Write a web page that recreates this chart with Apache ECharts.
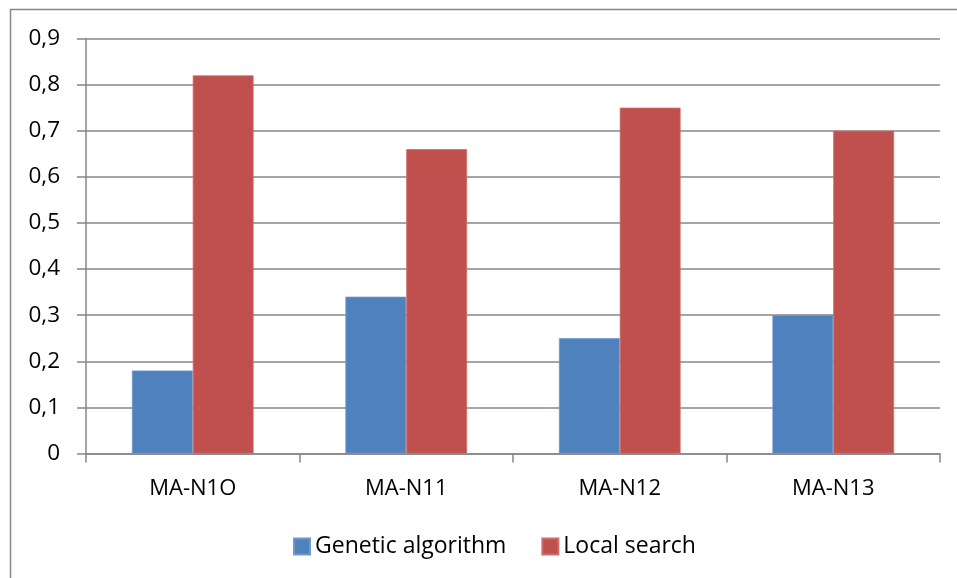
<!DOCTYPE html>
<html>
<head>
<meta charset="utf-8">
<script src="https://cdn.jsdelivr.net/npm/echarts@6/dist/echarts.min.js"></script>
<style>
  html, body { margin: 0; padding: 0; background: #fff; }
  #chart { width: 957px; height: 578px; }
</style>
</head>
<body>
<div id="chart"></div>
<script>
const categories = ['MA-N1O', 'MA-N11', 'MA-N12', 'MA-N13'];
const geneticAlgorithm = [0.18, 0.34, 0.25, 0.30];
const localSearch = [0.82, 0.66, 0.75, 0.70];
const yTickLabels = ['0', '0,1', '0,2', '0,3', '0,4', '0,5', '0,6', '0,7', '0,8', '0,9'];

const FONT = '"Open Sans"';
const GRAY = '#878787';

const chart = echarts.init(document.getElementById('chart'), null, { renderer: 'canvas' });

chart.setOption({
  animation: false,
  backgroundColor: '#fff',
  textStyle: { fontFamily: FONT },
  graphic: [{
    type: 'rect',
    shape: { x: 10.5, y: 9.5, width: 1000, height: 700 },
    style: { fill: 'none', stroke: GRAY, lineWidth: 1.5 },
    silent: true
  }],
  grid: { left: 86, right: 17, top: 38.5, bottom: 124.5, containLabel: false },
  legend: {
    bottom: 15,
    left: 288,
    itemWidth: 16,
    itemHeight: 16,
    itemGap: 35,
    icon: 'rect',
    textStyle: { fontFamily: FONT, fontSize: 23, color: '#000' },
    data: ['Genetic algorithm', 'Local search']
  },
  xAxis: {
    type: 'category',
    data: categories,
    axisLine: { lineStyle: { color: GRAY, width: 1.5 } },
    axisTick: { show: true, length: 9, alignWithLabel: false, lineStyle: { color: GRAY, width: 1.5 } },
    axisLabel: { fontFamily: FONT, fontSize: 22, color: '#000', margin: 24 }
  },
  yAxis: {
    type: 'value',
    min: 0,
    max: 0.9,
    interval: 0.1,
    axisLine: { show: true, lineStyle: { color: GRAY, width: 1.5 } },
    axisTick: { show: true, length: 9, lineStyle: { color: GRAY, width: 1.5 } },
    splitLine: { show: true, lineStyle: { color: GRAY, width: 1.5 } },
    axisLabel: {
      fontFamily: FONT, fontSize: 22.5, color: '#000', margin: 26,
      formatter: (v, i) => yTickLabels[i]
    }
  },
  series: [
    {
      name: 'Genetic algorithm',
      type: 'bar',
      data: geneticAlgorithm,
      barGap: '0%',
      barCategoryGap: '43%',
      itemStyle: { color: '#4F81BD', borderColor: '#6E97CB', borderWidth: 0.8 }
    },
    {
      name: 'Local search',
      type: 'bar',
      data: localSearch,
      barGap: '0%',
      barCategoryGap: '43%',
      itemStyle: { color: '#C0504D', borderColor: '#CC6E6B', borderWidth: 0.8 }
    }
  ]
});
</script>
</body>
</html>
